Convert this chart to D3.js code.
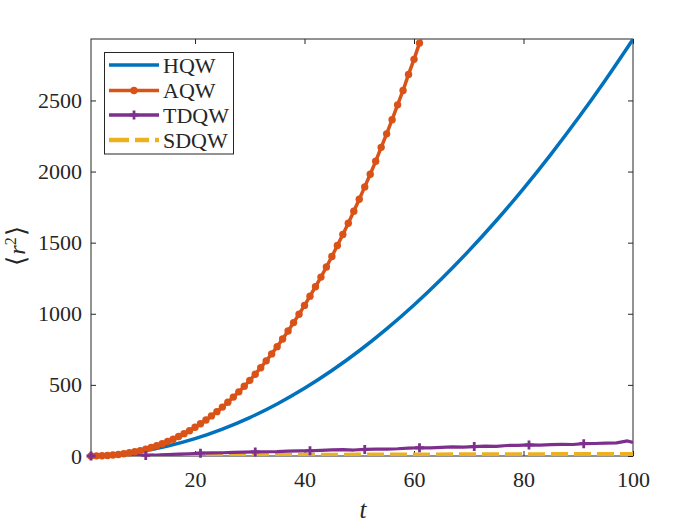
<!DOCTYPE html>
<html>
<head>
<meta charset="utf-8">
<script src="https://cdn.jsdelivr.net/npm/d3@7"></script>
<style>
  body { margin: 0; background: #fff; }
  text { font-family: "Liberation Serif", "DejaVu Serif", serif; fill: #262626; }
</style>
</head>
<body>
<div id="chart"></div>
<script>
// values
const hqwT = [1, 5, 10, 15, 20, 25, 30, 35, 40, 45, 50, 55, 60, 65, 70, 75, 80, 85, 90, 95, 100];
const hqwVals = [1, 9, 32, 70, 122, 189, 270, 366, 476, 601, 740, 894, 1062, 1245, 1442, 1654, 1880, 2121, 2376, 2646, 2930];

const aqwT = [1, 2, 3, 4, 5, 6, 7, 8, 9, 10, 11, 12, 13, 14, 15, 16, 17, 18, 19, 20, 21, 22, 23, 24, 25, 26, 27, 28, 29, 30, 31,
  32, 33, 34, 35, 36, 37, 38, 39, 40, 41, 42, 43, 44, 45, 46, 47, 48, 49, 50, 51, 52, 53, 54, 55, 56, 57, 58, 59, 60, 61, 62];
const aqwVals = [0, 1, 2, 4, 7, 11, 16, 23, 30, 38, 48, 60, 72, 86, 102, 118, 137, 157, 178, 202, 227, 253, 282, 312, 344,
  378, 414, 451, 490, 532, 575, 621, 669, 718, 769, 823, 879, 938, 997, 1059, 1124, 1190, 1258, 1329, 1403, 1480, 1557,
  1637, 1721, 1805, 1892, 1981, 2072, 2170, 2265, 2365, 2469, 2570, 2683, 2789, 2903, 3018];

const tdqwT = [1, 3, 5, 7, 9, 11, 13, 15, 17, 19, 21, 23, 25, 27, 29, 31, 33, 35, 37, 39, 41, 43, 45, 47, 49, 51, 53, 55,
  57, 59, 61, 63, 65, 67, 69, 71, 73, 75, 77, 79, 81, 83, 85, 87, 89, 91, 93, 95, 97, 99, 100];
const tdqwVals = [0, 1, 2, 3, 4, 4, 7, 10, 13, 16, 20, 22, 23, 25, 27, 29, 30, 31, 34, 36, 37, 40, 43, 45, 42, 46, 48, 49,
  51, 56, 58, 57, 60, 64, 62, 66, 69, 68, 74, 75, 78, 77, 80, 82, 81, 87, 88, 90, 92, 106, 95];
const tdqwMarkT = [1, 11, 21, 31, 41, 51, 61, 71, 81, 91];

const sdqwT = [1, 10, 20, 30, 40, 50, 60, 70, 80, 90, 100];
const sdqwVals = [0, 3, 5, 6, 7, 8, 9, 10, 11, 12, 12];

const xTicks = [20, 40, 60, 80, 100];
const yTicks = [0, 500, 1000, 1500, 2000, 2500];

const legendNames = ["HQW", "AQW", "TDQW", "SDQW"];
const colors = ["#0072BD", "#D95319", "#7E2F8E", "#EDB120"];

const W = 700, H = 525;
const mLeft = 91, mTop = 39, mRight = 633, mBottom = 456;
const serif = "'Liberation Serif', 'DejaVu Serif', serif";

const svg = d3.select("#chart").append("svg")
    .attr("width", W)
    .attr("height", H)
    .style("background", "#fff");

const x = d3.scaleLinear().domain([1, 100]).range([mLeft, mRight]);
const y = d3.scaleLinear().domain([0, 2932]).range([mBottom, mTop]);

svg.append("clipPath").attr("id", "plotclip")
  .append("rect")
    .attr("x", mLeft).attr("y", mTop)
    .attr("width", mRight - mLeft).attr("height", mBottom - mTop);

// axes with inward ticks, box on
const axStyle = g => {
    g.select(".domain").remove();
    g.selectAll("line").attr("stroke", "#262626");
    g.selectAll("text").style("font-size", "22px").style("font-family", serif).attr("fill", "#262626");
};

svg.append("g").attr("transform", "translate(0," + mBottom + ")")
    .call(d3.axisBottom(x).tickValues(xTicks).tickSize(-5).tickPadding(15).tickFormat(d3.format("d")))
    .call(axStyle);
svg.append("g").attr("transform", "translate(0," + mTop + ")")
    .call(d3.axisTop(x).tickValues(xTicks).tickSize(-5).tickFormat(""))
    .call(axStyle);
svg.append("g").attr("transform", "translate(" + mLeft + ",0)")
    .call(d3.axisLeft(y).tickValues(yTicks).tickSize(-5).tickPadding(9).tickFormat(d3.format("d")))
    .call(axStyle);
svg.append("g").attr("transform", "translate(" + mRight + ",0)")
    .call(d3.axisRight(y).tickValues(yTicks).tickSize(-5).tickFormat(""))
    .call(axStyle);

svg.append("rect")
    .attr("x", mLeft).attr("y", mTop)
    .attr("width", mRight - mLeft).attr("height", mBottom - mTop)
    .attr("fill", "none")
    .attr("stroke", "#262626")
    .attr("stroke-width", 1);

const line = d3.line()
    .x(d => x(d[0]))
    .y(d => y(d[1]));

const plot = svg.append("g").attr("clip-path", "url(#plotclip)");

const zip = (a, b) => a.map((t, i) => [t, b[i]]);

// SDQW
plot.append("path")
    .datum(zip(sdqwT, sdqwVals))
    .attr("fill", "none")
    .attr("stroke", colors[3])
    .attr("stroke-width", 4.5)
    .attr("stroke-dasharray", "17,6")
    .attr("d", line);

// TDQW
plot.append("path")
    .datum(zip(tdqwT, tdqwVals))
    .attr("fill", "none")
    .attr("stroke", colors[2])
    .attr("stroke-width", 3.2)
    .attr("stroke-linejoin", "round")
    .attr("d", line);

// HQW
plot.append("path")
    .datum(zip(hqwT, hqwVals))
    .attr("fill", "none")
    .attr("stroke", colors[0])
    .attr("stroke-width", 3.5)
    .attr("d", line.curve(d3.curveMonotoneX));
line.curve(d3.curveLinear);

// AQW
plot.append("path")
    .datum(zip(aqwT, aqwVals))
    .attr("fill", "none")
    .attr("stroke", colors[1])
    .attr("stroke-width", 3.5)
    .attr("d", line);

svg.append("g").selectAll("circle")
    .data(zip(aqwT, aqwVals).filter(d => d[1] <= 2932))
    .join("circle")
    .attr("cx", d => x(d[0]))
    .attr("cy", d => y(d[1]))
    .attr("r", 3.7)
    .attr("fill", colors[1]);

const plusPath = "M-4.5,0H4.5M0,-4.5V4.5";
svg.append("g").selectAll("path")
    .data(tdqwMarkT.map(t => [t, tdqwVals[tdqwT.indexOf(t)]]))
    .join("path")
    .attr("transform", d => "translate(" + x(d[0]) + "," + y(d[1]) + ")")
    .attr("d", plusPath)
    .attr("stroke", colors[2])
    .attr("stroke-width", 2.8)
    .attr("fill", "none");

// axis labels
svg.append("text")
    .attr("x", 363)
    .attr("y", 518)
    .attr("text-anchor", "middle")
    .style("font-family", serif)
    .style("font-size", "25px")
    .style("font-style", "italic")
    .text("t");

const yl = svg.append("text")
    .attr("transform", "translate(25,246) rotate(-90)")
    .attr("text-anchor", "middle")
    .style("font-family", serif)
    .style("font-size", "24px");
yl.append("tspan").style("font-family", "'DejaVu Sans'").style("font-size", "26px").attr("font-weight", 200).text("\u27E8");
yl.append("tspan").attr("dx", 1).style("font-style", "italic").text("r");
yl.append("tspan").attr("dy", -9).style("font-size", "16px").text("2");
yl.append("tspan").attr("dy", 9).attr("dx", 1).style("font-family", "'DejaVu Sans'").style("font-size", "26px").attr("font-weight", 200).text("\u27E9");

// legend
const lg = svg.append("g");
lg.append("rect")
    .attr("x", 104.5).attr("y", 52.5)
    .attr("width", 129).attr("height", 101.5)
    .attr("fill", "#fff")
    .attr("stroke", "#262626")
    .attr("stroke-width", 1);

const rowY = [65, 90.5, 115, 140];
legendNames.forEach((name, i) => {
    const row = lg.append("g").attr("transform", "translate(0," + rowY[i] + ")");
    const l = row.append("line")
        .attr("x1", 109).attr("x2", 159)
        .attr("stroke", colors[i])
        .attr("stroke-width", i === 3 ? 4.5 : 3.5);
    if (i === 3) l.attr("stroke-dasharray", "20,6,14,6");
    if (i === 1) row.append("circle").attr("cx", 134).attr("r", 3.7).attr("fill", colors[1]);
    if (i === 2) row.append("path").attr("transform", "translate(134,0)").attr("d", plusPath)
        .attr("stroke", colors[2]).attr("stroke-width", 2.8);
    row.append("text")
        .attr("x", 163)
        .attr("y", 7.5)
        .style("font-family", serif)
        .style("font-size", "22px")
        .text(name);
});
</script>
</body>
</html>
